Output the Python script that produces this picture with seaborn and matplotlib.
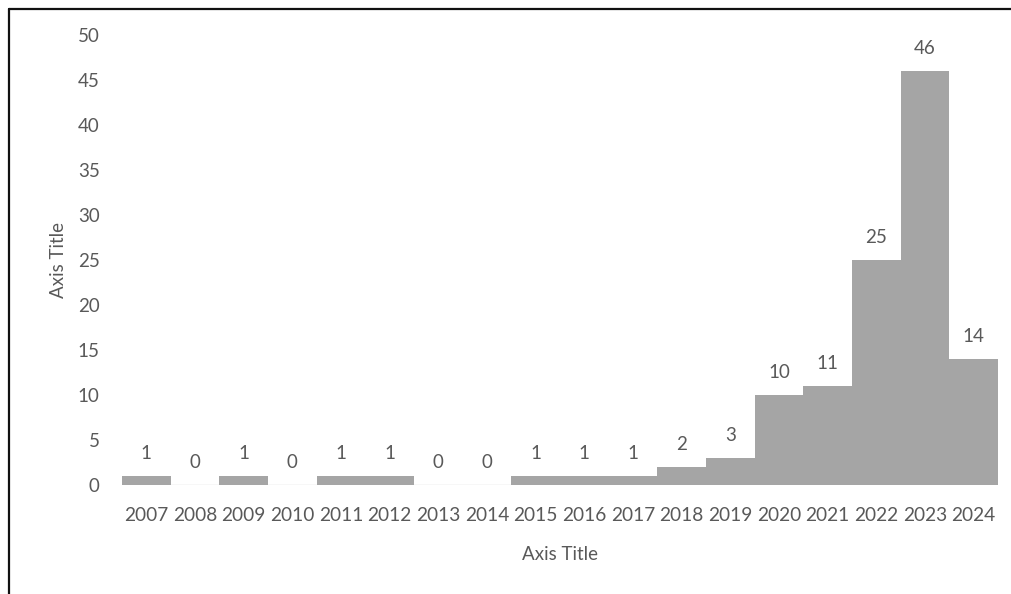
import matplotlib
matplotlib.use("Agg")
import matplotlib.pyplot as plt
from matplotlib.lines import Line2D
import seaborn as sns
import pandas as pd

years = ["2007", "2008", "2009", "2010", "2011", "2012", "2013", "2014", "2015",
         "2016", "2017", "2018", "2019", "2020", "2021", "2022", "2023", "2024"]
counts = [1, 0, 1, 0, 1, 1, 0, 0, 1, 1, 1, 2, 3, 10, 11, 25, 46, 14]

df = pd.DataFrame({"year": years, "count": counts})

sns.set_theme(style="white")
plt.rcParams["font.family"] = ["Lato", "DejaVu Sans"]

text_color = "#595959"
bar_color = "#A5A5A5"

fig = plt.figure(figsize=(10.12, 5.94), dpi=100)
ax = fig.add_axes([122 / 1012, 1 - 485 / 594, 876 / 1012, 450 / 594])

sns.barplot(data=df, x="year", y="count", color=bar_color, width=1.0,
            saturation=1, ax=ax, linewidth=0)

ax.set_ylim(0, 50)
ax.set_xlim(-0.5, len(years) - 0.5)
ax.set_yticks(range(0, 51, 5))
for s in ax.spines.values():
    s.set_visible(False)
ax.axhline(0, color="#D9D9D9", lw=1.0, zorder=0.5)

ax.tick_params(axis="both", length=0, labelcolor=text_color)
ax.tick_params(axis="y", pad=16, labelsize=13.5)
ax.tick_params(axis="x", pad=16, labelsize=13.8)

ax.set_xlabel("Axis Title", fontsize=13.5, color=text_color, labelpad=16)
ax.set_ylabel("Axis Title", fontsize=13.5, color=text_color, labelpad=8)

for i, v in enumerate(counts):
    ax.annotate(str(v), (i, v), xytext=(0, 10), textcoords="offset points",
                ha="center", va="bottom", fontsize=13.5, color=text_color)

# chart frame
fig.add_artist(Line2D([9 / 1012, 1.0], [1 - 9 / 594, 1 - 9 / 594],
                      transform=fig.transFigure, color="#111111", lw=1.6))
fig.add_artist(Line2D([9 / 1012, 9 / 1012], [0.0, 1 - 9 / 594],
                      transform=fig.transFigure, color="#111111", lw=1.6))

fig.savefig("out.png", dpi=100)
